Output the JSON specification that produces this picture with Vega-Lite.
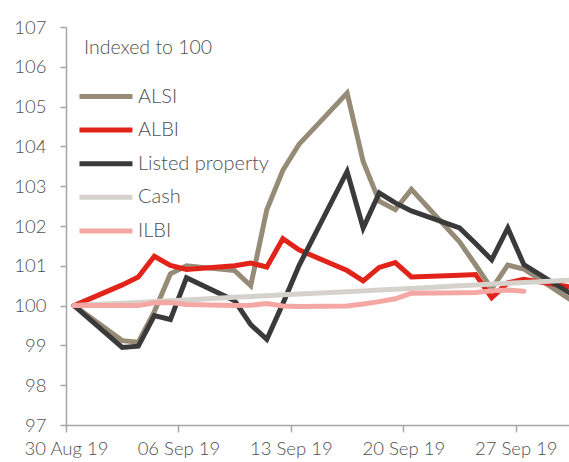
{
  "$schema": "https://vega.github.io/schema/vega-lite/v6.json",
  "width": 504,
  "height": 398,
  "autosize": {"type": "none"},
  "padding": {"left": 66, "top": 27, "right": 0, "bottom": 37},
  "background": "white",
  "title": {"text": "(%)", "anchor": "end", "frame": "group", "dx": -53, "offset": 27, "baseline": "alphabetic", "font": "Lato", "fontSize": 20, "fontWeight": "bold", "color": "#333333"},
  "config": {
    "view": {"stroke": null},
    "font": "Lato",
    "axis": {"labelFont": "Lato", "labelFontWeight": 300, "labelFontSize": 18.5, "labelColor": "#505050", "domainColor": "#A6A6A6", "domainWidth": 1.5, "tickColor": "#A6A6A6", "tickWidth": 1.5, "grid": false, "title": null},
    "legend": {"labelFont": "Lato", "labelFontWeight": 300, "titleFont": "Lato", "titleFontWeight": 300}
  },
  "data": {"values": [
    {"date": "2019-08-30T12:00:00Z", "series": "ALSI", "value": 100.00},
    {"date": "2019-09-02T12:00:00Z", "series": "ALSI", "value": 99.12},
    {"date": "2019-09-03T12:00:00Z", "series": "ALSI", "value": 99.08},
    {"date": "2019-09-04T12:00:00Z", "series": "ALSI", "value": 99.85},
    {"date": "2019-09-05T12:00:00Z", "series": "ALSI", "value": 100.80},
    {"date": "2019-09-06T12:00:00Z", "series": "ALSI", "value": 101.00},
    {"date": "2019-09-09T12:00:00Z", "series": "ALSI", "value": 100.88},
    {"date": "2019-09-10T12:00:00Z", "series": "ALSI", "value": 100.50},
    {"date": "2019-09-11T12:00:00Z", "series": "ALSI", "value": 102.41},
    {"date": "2019-09-12T12:00:00Z", "series": "ALSI", "value": 103.40},
    {"date": "2019-09-13T12:00:00Z", "series": "ALSI", "value": 104.05},
    {"date": "2019-09-16T12:00:00Z", "series": "ALSI", "value": 105.34},
    {"date": "2019-09-17T12:00:00Z", "series": "ALSI", "value": 103.62},
    {"date": "2019-09-18T12:00:00Z", "series": "ALSI", "value": 102.62},
    {"date": "2019-09-19T12:00:00Z", "series": "ALSI", "value": 102.41},
    {"date": "2019-09-20T12:00:00Z", "series": "ALSI", "value": 102.92},
    {"date": "2019-09-23T12:00:00Z", "series": "ALSI", "value": 101.60},
    {"date": "2019-09-24T12:00:00Z", "series": "ALSI", "value": 101.02},
    {"date": "2019-09-25T12:00:00Z", "series": "ALSI", "value": 100.42},
    {"date": "2019-09-26T12:00:00Z", "series": "ALSI", "value": 101.02},
    {"date": "2019-09-27T12:00:00Z", "series": "ALSI", "value": 100.92},
    {"date": "2019-09-30T12:00:00Z", "series": "ALSI", "value": 100.12},

    {"date": "2019-08-30T12:00:00Z", "series": "ALBI", "value": 100.00},
    {"date": "2019-09-02T12:00:00Z", "series": "ALBI", "value": 100.52},
    {"date": "2019-09-03T12:00:00Z", "series": "ALBI", "value": 100.72},
    {"date": "2019-09-04T12:00:00Z", "series": "ALBI", "value": 101.24},
    {"date": "2019-09-05T12:00:00Z", "series": "ALBI", "value": 101.01},
    {"date": "2019-09-06T12:00:00Z", "series": "ALBI", "value": 100.91},
    {"date": "2019-09-09T12:00:00Z", "series": "ALBI", "value": 101.00},
    {"date": "2019-09-10T12:00:00Z", "series": "ALBI", "value": 101.07},
    {"date": "2019-09-11T12:00:00Z", "series": "ALBI", "value": 100.97},
    {"date": "2019-09-12T12:00:00Z", "series": "ALBI", "value": 101.68},
    {"date": "2019-09-13T12:00:00Z", "series": "ALBI", "value": 101.40},
    {"date": "2019-09-16T12:00:00Z", "series": "ALBI", "value": 100.88},
    {"date": "2019-09-17T12:00:00Z", "series": "ALBI", "value": 100.62},
    {"date": "2019-09-18T12:00:00Z", "series": "ALBI", "value": 100.96},
    {"date": "2019-09-19T12:00:00Z", "series": "ALBI", "value": 101.08},
    {"date": "2019-09-20T12:00:00Z", "series": "ALBI", "value": 100.72},
    {"date": "2019-09-23T12:00:00Z", "series": "ALBI", "value": 100.76},
    {"date": "2019-09-24T12:00:00Z", "series": "ALBI", "value": 100.78},
    {"date": "2019-09-25T12:00:00Z", "series": "ALBI", "value": 100.20},
    {"date": "2019-09-26T12:00:00Z", "series": "ALBI", "value": 100.57},
    {"date": "2019-09-27T12:00:00Z", "series": "ALBI", "value": 100.66},
    {"date": "2019-09-30T12:00:00Z", "series": "ALBI", "value": 100.46},

    {"date": "2019-08-30T12:00:00Z", "series": "Listed property", "value": 100.00},
    {"date": "2019-09-02T12:00:00Z", "series": "Listed property", "value": 98.95},
    {"date": "2019-09-03T12:00:00Z", "series": "Listed property", "value": 98.98},
    {"date": "2019-09-04T12:00:00Z", "series": "Listed property", "value": 99.75},
    {"date": "2019-09-05T12:00:00Z", "series": "Listed property", "value": 99.65},
    {"date": "2019-09-06T12:00:00Z", "series": "Listed property", "value": 100.70},
    {"date": "2019-09-09T12:00:00Z", "series": "Listed property", "value": 100.12},
    {"date": "2019-09-10T12:00:00Z", "series": "Listed property", "value": 99.52},
    {"date": "2019-09-11T12:00:00Z", "series": "Listed property", "value": 99.15},
    {"date": "2019-09-12T12:00:00Z", "series": "Listed property", "value": 100.05},
    {"date": "2019-09-13T12:00:00Z", "series": "Listed property", "value": 101.00},
    {"date": "2019-09-16T12:00:00Z", "series": "Listed property", "value": 103.37},
    {"date": "2019-09-17T12:00:00Z", "series": "Listed property", "value": 101.95},
    {"date": "2019-09-18T12:00:00Z", "series": "Listed property", "value": 102.83},
    {"date": "2019-09-19T12:00:00Z", "series": "Listed property", "value": 102.58},
    {"date": "2019-09-20T12:00:00Z", "series": "Listed property", "value": 102.38},
    {"date": "2019-09-23T12:00:00Z", "series": "Listed property", "value": 101.95},
    {"date": "2019-09-24T12:00:00Z", "series": "Listed property", "value": 101.56},
    {"date": "2019-09-25T12:00:00Z", "series": "Listed property", "value": 101.15},
    {"date": "2019-09-26T12:00:00Z", "series": "Listed property", "value": 101.95},
    {"date": "2019-09-27T12:00:00Z", "series": "Listed property", "value": 101.03},
    {"date": "2019-09-30T12:00:00Z", "series": "Listed property", "value": 100.28},

    {"date": "2019-08-30T12:00:00Z", "series": "Cash", "value": 100.00},
    {"date": "2019-09-02T12:00:00Z", "series": "Cash", "value": 100.06},
    {"date": "2019-09-03T12:00:00Z", "series": "Cash", "value": 100.08},
    {"date": "2019-09-04T12:00:00Z", "series": "Cash", "value": 100.10},
    {"date": "2019-09-05T12:00:00Z", "series": "Cash", "value": 100.12},
    {"date": "2019-09-06T12:00:00Z", "series": "Cash", "value": 100.14},
    {"date": "2019-09-09T12:00:00Z", "series": "Cash", "value": 100.21},
    {"date": "2019-09-10T12:00:00Z", "series": "Cash", "value": 100.23},
    {"date": "2019-09-11T12:00:00Z", "series": "Cash", "value": 100.25},
    {"date": "2019-09-12T12:00:00Z", "series": "Cash", "value": 100.27},
    {"date": "2019-09-13T12:00:00Z", "series": "Cash", "value": 100.29},
    {"date": "2019-09-16T12:00:00Z", "series": "Cash", "value": 100.35},
    {"date": "2019-09-17T12:00:00Z", "series": "Cash", "value": 100.37},
    {"date": "2019-09-18T12:00:00Z", "series": "Cash", "value": 100.39},
    {"date": "2019-09-19T12:00:00Z", "series": "Cash", "value": 100.41},
    {"date": "2019-09-20T12:00:00Z", "series": "Cash", "value": 100.43},
    {"date": "2019-09-23T12:00:00Z", "series": "Cash", "value": 100.50},
    {"date": "2019-09-24T12:00:00Z", "series": "Cash", "value": 100.52},
    {"date": "2019-09-25T12:00:00Z", "series": "Cash", "value": 100.54},
    {"date": "2019-09-26T12:00:00Z", "series": "Cash", "value": 100.56},
    {"date": "2019-09-27T12:00:00Z", "series": "Cash", "value": 100.58},
    {"date": "2019-09-30T12:00:00Z", "series": "Cash", "value": 100.64},

    {"date": "2019-08-30T12:00:00Z", "series": "ILBI", "value": 100.00},
    {"date": "2019-09-02T12:00:00Z", "series": "ILBI", "value": 100.00},
    {"date": "2019-09-03T12:00:00Z", "series": "ILBI", "value": 100.00},
    {"date": "2019-09-04T12:00:00Z", "series": "ILBI", "value": 100.07},
    {"date": "2019-09-05T12:00:00Z", "series": "ILBI", "value": 100.08},
    {"date": "2019-09-06T12:00:00Z", "series": "ILBI", "value": 100.03},
    {"date": "2019-09-09T12:00:00Z", "series": "ILBI", "value": 100.00},
    {"date": "2019-09-10T12:00:00Z", "series": "ILBI", "value": 100.01},
    {"date": "2019-09-11T12:00:00Z", "series": "ILBI", "value": 100.05},
    {"date": "2019-09-12T12:00:00Z", "series": "ILBI", "value": 99.99},
    {"date": "2019-09-13T12:00:00Z", "series": "ILBI", "value": 99.98},
    {"date": "2019-09-16T12:00:00Z", "series": "ILBI", "value": 99.99},
    {"date": "2019-09-17T12:00:00Z", "series": "ILBI", "value": 100.04},
    {"date": "2019-09-18T12:00:00Z", "series": "ILBI", "value": 100.10},
    {"date": "2019-09-19T12:00:00Z", "series": "ILBI", "value": 100.17},
    {"date": "2019-09-20T12:00:00Z", "series": "ILBI", "value": 100.31},
    {"date": "2019-09-23T12:00:00Z", "series": "ILBI", "value": 100.32},
    {"date": "2019-09-24T12:00:00Z", "series": "ILBI", "value": 100.33},
    {"date": "2019-09-25T12:00:00Z", "series": "ILBI", "value": 100.37},
    {"date": "2019-09-26T12:00:00Z", "series": "ILBI", "value": 100.39},
    {"date": "2019-09-27T12:00:00Z", "series": "ILBI", "value": 100.36}
  ]},
  "mark": {"type": "line", "strokeWidth": 5, "clip": true, "strokeJoin": "miter", "strokeCap": "round"},
  "encoding": {
    "x": {
      "field": "date", "type": "temporal",
      "scale": {"type": "utc", "domain": [{"year": 2019, "month": 8, "date": 30, "utc": true}, {"year": 2019, "month": 9, "date": 30, "hours": 9, "utc": true}]},
      "axis": {
        "values": [
          {"year": 2019, "month": 8, "date": 30, "utc": true},
          {"year": 2019, "month": 9, "date": 6, "utc": true},
          {"year": 2019, "month": 9, "date": 13, "utc": true},
          {"year": 2019, "month": 9, "date": 20, "utc": true},
          {"year": 2019, "month": 9, "date": 27, "utc": true}
        ],
        "labelExpr": "utcFormat(datum.value, '%d %b %y')", "tickSize": 7, "labelPadding": 7, "labelOverlap": false, "labelFlush": false
      }
    },
    "y": {
      "field": "value", "type": "quantitative",
      "scale": {"domain": [97, 107], "zero": false, "nice": false},
      "axis": {"values": [97, 98, 99, 100, 101, 102, 103, 104, 105, 106, 107], "tickSize": 6, "labelPadding": 14}
    },
    "color": {
      "field": "series", "type": "nominal",
      "scale": {"domain": ["ALSI", "ALBI", "Listed property", "Cash", "ILBI"], "range": ["#958B76", "#E2231A", "#3A3A3A", "#D5D2CB", "#F4A7A3"]},
      "legend": {
        "orient": "none", "legendX": 18, "legendY": 12, "padding": 0,
        "title": "Indexed to 100", "titleFontSize": 19.5, "titleColor": "#505050", "titlePadding": 22,
        "symbolType": "M-1.55,0H2.45", "symbolSize": 702, "symbolStrokeWidth": 5,
        "labelFontSize": 20, "labelColor": "#505050", "labelOffset": 22, "rowPadding": 7.6
      }
    }
  }
}
